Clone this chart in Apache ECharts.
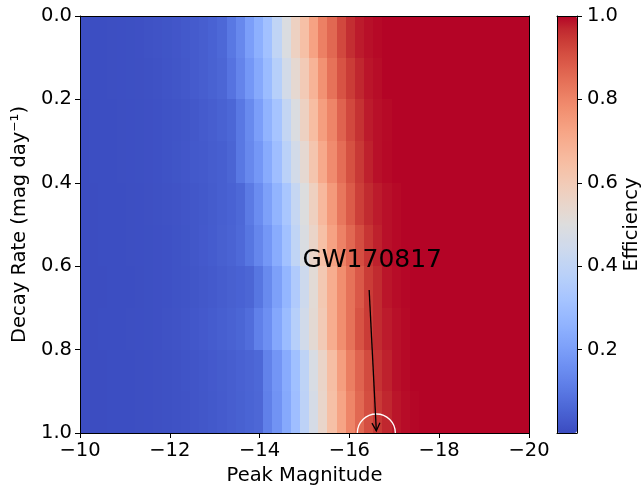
<!DOCTYPE html>
<html>
<head>
<meta charset="utf-8">
<script src="https://cdn.jsdelivr.net/npm/echarts@6/dist/echarts.min.js"></script>
<style>
  html, body { margin: 0; padding: 0; background: #ffffff; }
  #chart { width: 644px; height: 489px; }
</style>
</head>
<body>
<div id="chart"></div>
<script>
// Magnitude grid: 49 bins spanning -10 ... -20 mag
const magStart = -10;
const magEnd = -20;
const magBinCount = 49;

// Decay-rate bin edges (mag / day)
const decayRateEdges = [0.0, 0.1, 0.2, 0.3, 0.4, 0.5, 0.6, 0.7, 0.8, 0.9, 1.0];

// Recovery efficiency, one row per decay-rate bin, one column per magnitude bin
const efficiencyRate00 = [0.004, 0.004, 0.005, 0.006, 0.007, 0.008, 0.010, 0.013, 0.016, 0.019, 0.023, 0.028,
  0.034, 0.041, 0.050, 0.062,
  0.10, 0.14, 0.20, 0.25, 0.31, 0.40, 0.49, 0.57, 0.64, 0.73, 0.81, 0.86, 0.92, 0.96, 0.98, 0.99, 0.996,
  1.0, 1.0, 1.0, 1.0, 1.0, 1.0, 1.0, 1.0, 1.0, 1.0, 1.0, 1.0, 1.0, 1.0, 1.0, 1.0];
const efficiencyRate01 = [0.004, 0.005, 0.005, 0.006, 0.007, 0.008, 0.009, 0.011, 0.014, 0.018, 0.022, 0.027,
  0.033, 0.040, 0.048, 0.058,
  0.09, 0.13, 0.18, 0.23, 0.29, 0.37, 0.46, 0.53, 0.60, 0.68, 0.77, 0.84, 0.90, 0.94, 0.97, 0.985, 0.992,
  1.0, 1.0, 1.0, 1.0, 1.0, 1.0, 1.0, 1.0, 1.0, 1.0, 1.0, 1.0, 1.0, 1.0, 1.0, 1.0];
const efficiencyRate02 = [0.003, 0.004, 0.004, 0.005, 0.006, 0.007, 0.008, 0.010, 0.012, 0.015, 0.018, 0.022,
  0.027, 0.033, 0.040, 0.048, 0.060,
  0.10, 0.145, 0.20, 0.26, 0.32, 0.41, 0.49, 0.57, 0.65, 0.74, 0.80, 0.87, 0.92, 0.955, 0.98, 0.99, 0.995,
  1.0, 1.0, 1.0, 1.0, 1.0, 1.0, 1.0, 1.0, 1.0, 1.0, 1.0, 1.0, 1.0, 1.0, 1.0];
const efficiencyRate03 = [0.003, 0.004, 0.004, 0.005, 0.006, 0.007, 0.008, 0.010, 0.012, 0.015, 0.019, 0.023,
  0.028, 0.032, 0.037, 0.042,
  0.055, 0.10, 0.14, 0.18, 0.235, 0.30, 0.38, 0.46, 0.53, 0.62, 0.71, 0.785, 0.85, 0.905, 0.945, 0.975, 0.99, 0.996,
  1.0, 1.0, 1.0, 1.0, 1.0, 1.0, 1.0, 1.0, 1.0, 1.0, 1.0, 1.0, 1.0, 1.0, 1.0];
const efficiencyRate04 = [0.003, 0.003, 0.004, 0.005, 0.005, 0.006, 0.007, 0.009, 0.011, 0.013, 0.016, 0.020,
  0.024, 0.029, 0.035, 0.042, 0.050, 0.062,
  0.105, 0.15, 0.205, 0.265, 0.33, 0.415, 0.495, 0.575, 0.665, 0.75, 0.83, 0.885, 0.935, 0.965, 0.98, 0.99, 0.996,
  1.0, 1.0, 1.0, 1.0, 1.0, 1.0, 1.0, 1.0, 1.0, 1.0, 1.0, 1.0, 1.0, 1.0];
const efficiencyRate05 = [0.003, 0.003, 0.004, 0.004, 0.005, 0.006, 0.007, 0.008, 0.010, 0.012, 0.015, 0.019,
  0.024, 0.030, 0.036, 0.044, 0.052,
  0.065, 0.095, 0.135, 0.18, 0.24, 0.31, 0.40, 0.485, 0.555, 0.64, 0.73, 0.805, 0.86, 0.91, 0.95, 0.975, 0.99, 0.996,
  1.0, 1.0, 1.0, 1.0, 1.0, 1.0, 1.0, 1.0, 1.0, 1.0, 1.0, 1.0, 1.0, 1.0];
const efficiencyRate06 = [0.003, 0.003, 0.003, 0.004, 0.005, 0.005, 0.006, 0.008, 0.010, 0.012, 0.015, 0.018,
  0.022, 0.027, 0.032, 0.038, 0.044, 0.050, 0.058,
  0.095, 0.145, 0.205, 0.27, 0.35, 0.44, 0.52, 0.61, 0.70, 0.78, 0.84, 0.89, 0.94, 0.965, 0.985, 0.993, 0.997,
  1.0, 1.0, 1.0, 1.0, 1.0, 1.0, 1.0, 1.0, 1.0, 1.0, 1.0, 1.0, 1.0];
const efficiencyRate07 = [0.003, 0.003, 0.004, 0.004, 0.005, 0.006, 0.007, 0.008, 0.010, 0.013, 0.016, 0.020,
  0.025, 0.030, 0.036, 0.042, 0.049, 0.057,
  0.075, 0.12, 0.16, 0.225, 0.29, 0.37, 0.455, 0.525, 0.60, 0.70, 0.78, 0.84, 0.90, 0.94, 0.965, 0.98, 0.99, 0.996,
  1.0, 1.0, 1.0, 1.0, 1.0, 1.0, 1.0, 1.0, 1.0, 1.0, 1.0, 1.0, 1.0];
const efficiencyRate08 = [0.003, 0.003, 0.003, 0.004, 0.004, 0.005, 0.006, 0.007, 0.009, 0.011, 0.014, 0.017,
  0.021, 0.025, 0.030, 0.035, 0.041, 0.047, 0.054, 0.062,
  0.125, 0.175, 0.235, 0.305, 0.395, 0.48, 0.555, 0.645, 0.74, 0.815, 0.87, 0.915, 0.955, 0.975, 0.99, 0.996,
  1.0, 1.0, 1.0, 1.0, 1.0, 1.0, 1.0, 1.0, 1.0, 1.0, 1.0, 1.0, 1.0];
const efficiencyRate09 = [0.003, 0.003, 0.003, 0.004, 0.004, 0.005, 0.006, 0.007, 0.009, 0.011, 0.013, 0.016,
  0.020, 0.024, 0.029, 0.034, 0.040, 0.046, 0.053, 0.061,
  0.12, 0.17, 0.23, 0.30, 0.39, 0.47, 0.55, 0.64, 0.725, 0.80, 0.86, 0.91, 0.945, 0.97, 0.985, 0.993, 0.997,
  1.0, 1.0, 1.0, 1.0, 1.0, 1.0, 1.0, 1.0, 1.0, 1.0, 1.0, 1.0];

const efficiencyRows = [efficiencyRate00, efficiencyRate01, efficiencyRate02, efficiencyRate03, efficiencyRate04,
  efficiencyRate05, efficiencyRate06, efficiencyRate07, efficiencyRate08, efficiencyRate09];

// Tick values
const magTicks = [-10, -12, -14, -16, -18, -20];
const rateTicks = [0.0, 0.2, 0.4, 0.6, 0.8, 1.0];
const colorbarTicks = [0.2, 0.4, 0.6, 0.8, 1.0];

// Marked event and its label
const eventName = 'GW170817';
const eventPeakMag = -16.6;
const eventDecayRate = 1.0;
const eventLabelAt = [-15.0, 0.6];
const eventArrowFrom = [-16.44, 0.657];

// Diverging cool-warm palette
const coolwarm = ['#3b4cc0', '#445acc', '#4d68d7', '#5775e1', '#6282ea', '#6c8ef1', '#779af7', '#82a5fb',
  '#8db0fe', '#98b9ff', '#a3c2ff', '#aec9fd', '#b8d0f9', '#c2d5f4', '#ccd9ee', '#d5dbe6', '#dddddd',
  '#e5d8d1', '#ecd3c5', '#f1ccb8', '#f5c4ac', '#f7bba0', '#f7b194', '#f7a687', '#f49a7b', '#f18d6f',
  '#ec7f63', '#e57058', '#de604d', '#d55042', '#cb3e38', '#c0282f', '#b40426'];

const FONT = 'DejaVu Sans';
const INK = '#000000';

// Build the cell list: [magLo, magHi, rateLo, rateHi, efficiency]
const cells = [];
efficiencyRows.forEach(function (row, j) {
  row.forEach(function (eff, k) {
    const m0 = magStart + (magEnd - magStart) * k / magBinCount;
    const m1 = magStart + (magEnd - magStart) * (k + 1) / magBinCount;
    cells.push([m0, m1, decayRateEdges[j], decayRateEdges[j + 1], eff]);
  });
});

const minus = function (v) {
  return (v < 0 ? '\u2212' : '') + Math.abs(v);
};

const lineOnly = function (extra) {
  return Object.assign({
    type: 'value',
    min: 0,
    max: 1,
    z: 10,
    axisLine: { show: true, onZero: false, lineStyle: { color: INK, width: 1 } },
    axisTick: { show: false },
    axisLabel: { show: false },
    splitLine: { show: false }
  }, extra);
};

const chart = echarts.init(document.getElementById('chart'), null, { renderer: 'canvas' });

chart.setOption({
  animation: false,
  backgroundColor: '#ffffff',
  textStyle: { fontFamily: FONT, color: INK },
  grid: [
    { left: 80, top: 16, width: 449, height: 417, outerBoundsMode: 'none', containLabel: false },
    { left: 557, top: 16, width: 20, height: 417, outerBoundsMode: 'none', containLabel: false }
  ],
  visualMap: {
    type: 'continuous',
    seriesIndex: 0,
    dimension: 4,
    min: 0,
    max: 1,
    calculable: false,
    realtime: false,
    hoverLink: false,
    orient: 'vertical',
    left: 557,
    top: 16,
    padding: 0,
    itemWidth: 20,
    itemHeight: 417,
    showLabel: false,
    inRange: { color: coolwarm },
    z: 4
  },
  xAxis: [
    {
      gridIndex: 0,
      type: 'value',
      position: 'bottom',
      min: magEnd,
      max: magStart,
      inverse: true,
      interval: 2,
      z: 10,
      name: 'Peak Magnitude',
      nameLocation: 'middle',
      nameGap: 27,
      nameTextStyle: { fontFamily: FONT, fontSize: 19.5, color: INK },
      axisLine: { show: true, onZero: false, lineStyle: { color: INK, width: 1 } },
      axisTick: { show: true, inside: false, length: 5, lineStyle: { color: INK, width: 1 } },
      axisLabel: {
        show: true, margin: 8, fontFamily: FONT, fontSize: 19.5, color: INK,
        formatter: minus, customValues: magTicks
      },
      splitLine: { show: false }
    },
    lineOnly({ gridIndex: 0, position: 'top', min: magEnd, max: magStart, inverse: true }),
    lineOnly({ gridIndex: 1, position: 'bottom' }),
    lineOnly({ gridIndex: 1, position: 'top' })
  ],
  yAxis: [
    {
      gridIndex: 0,
      type: 'value',
      position: 'left',
      min: 0,
      max: 1,
      inverse: true,
      interval: 0.2,
      z: 10,
      name: 'Decay Rate (mag day\u207B\u00B9)',
      nameLocation: 'middle',
      nameRotate: 90,
      nameGap: 44,
      nameTextStyle: { fontFamily: FONT, fontSize: 19.5, color: INK },
      axisLine: { show: true, onZero: false, lineStyle: { color: INK, width: 1 } },
      axisTick: { show: true, inside: false, length: 5, lineStyle: { color: INK, width: 1 } },
      axisLabel: {
        show: true, margin: 8, fontFamily: FONT, fontSize: 19.5, color: INK,
        formatter: function (v) { return v.toFixed(1); }, customValues: rateTicks
      },
      splitLine: { show: false }
    },
    lineOnly({ gridIndex: 0, position: 'right', inverse: true }),
    {
      gridIndex: 1,
      type: 'value',
      position: 'right',
      min: 0,
      max: 1,
      z: 10,
      name: 'Efficiency',
      nameLocation: 'middle',
      nameRotate: 90,
      nameGap: 44,
      nameTextStyle: { fontFamily: FONT, fontSize: 19.5, color: INK },
      axisLine: { show: true, onZero: false, lineStyle: { color: INK, width: 1 } },
      axisTick: { show: true, inside: false, length: 5, lineStyle: { color: INK, width: 1 }, customValues: colorbarTicks },
      axisLabel: {
        show: true, margin: 10, fontFamily: FONT, fontSize: 19.5, color: INK,
        formatter: function (v) { return v.toFixed(1); }, customValues: colorbarTicks
      },
      splitLine: { show: false }
    },
    lineOnly({ gridIndex: 1, position: 'left' })
  ],
  series: [
    {
      type: 'custom',
      name: 'efficiency',
      xAxisIndex: 0,
      yAxisIndex: 0,
      clip: true,
      z: 2,
      encode: { x: [0, 1], y: [2, 3] },
      data: cells,
      renderItem: function (params, api) {
        const p0 = api.coord([api.value(0), api.value(2)]);
        const p1 = api.coord([api.value(1), api.value(3)]);
        // snap cell edges to whole pixels so neighbouring cells meet without seams
        const x0 = Math.round(Math.min(p0[0], p1[0]));
        const x1 = Math.round(Math.max(p0[0], p1[0]));
        const y0 = Math.round(Math.min(p0[1], p1[1]));
        const y1 = Math.round(Math.max(p0[1], p1[1]));
        return {
          type: 'rect',
          shape: { x: x0, y: y0, width: x1 - x0, height: y1 - y0 },
          style: { fill: api.visual('color') }
        };
      }
    },
    {
      type: 'custom',
      name: 'event',
      xAxisIndex: 0,
      yAxisIndex: 0,
      clip: true,
      z: 5,
      encode: { x: 0, y: 1 },
      data: [[eventPeakMag, eventDecayRate]],
      renderItem: function (params, api) {
        const target = api.coord([api.value(0), api.value(1)]);
        const tip = api.coord([eventPeakMag, eventDecayRate - 0.005]);
        const tail = api.coord(eventArrowFrom);
        const label = api.coord(eventLabelAt);
        const dx = tip[0] - tail[0];
        const dy = tip[1] - tail[1];
        const len = Math.sqrt(dx * dx + dy * dy);
        const ux = dx / len, uy = dy / len;
        const nx = -uy, ny = ux;
        const headL = 8, headW = 4;
        return {
          type: 'group',
          children: [
            {
              type: 'circle',
              shape: { cx: target[0], cy: target[1], r: 19 },
              style: { fill: 'none', stroke: '#ffffff', lineWidth: 1.3 }
            },
            {
              type: 'line',
              shape: { x1: tail[0], y1: tail[1], x2: tip[0], y2: tip[1] },
              style: { stroke: INK, lineWidth: 1.3 }
            },
            {
              type: 'polyline',
              shape: {
                points: [
                  [tip[0] - ux * headL + nx * headW, tip[1] - uy * headL + ny * headW],
                  [tip[0], tip[1]],
                  [tip[0] - ux * headL - nx * headW, tip[1] - uy * headL - ny * headW]
                ]
              },
              style: { fill: 'none', stroke: INK, lineWidth: 1.3 }
            },
            {
              // label sits on its baseline at the label position
              type: 'text',
              x: label[0] - 2,
              y: label[1] - 18.5,
              style: {
                text: eventName,
                fontFamily: FONT,
                fontSize: 25,
                fill: INK,
                align: 'left',
                verticalAlign: 'top'
              }
            }
          ]
        };
      }
    }
  ]
});
</script>
</body>
</html>
